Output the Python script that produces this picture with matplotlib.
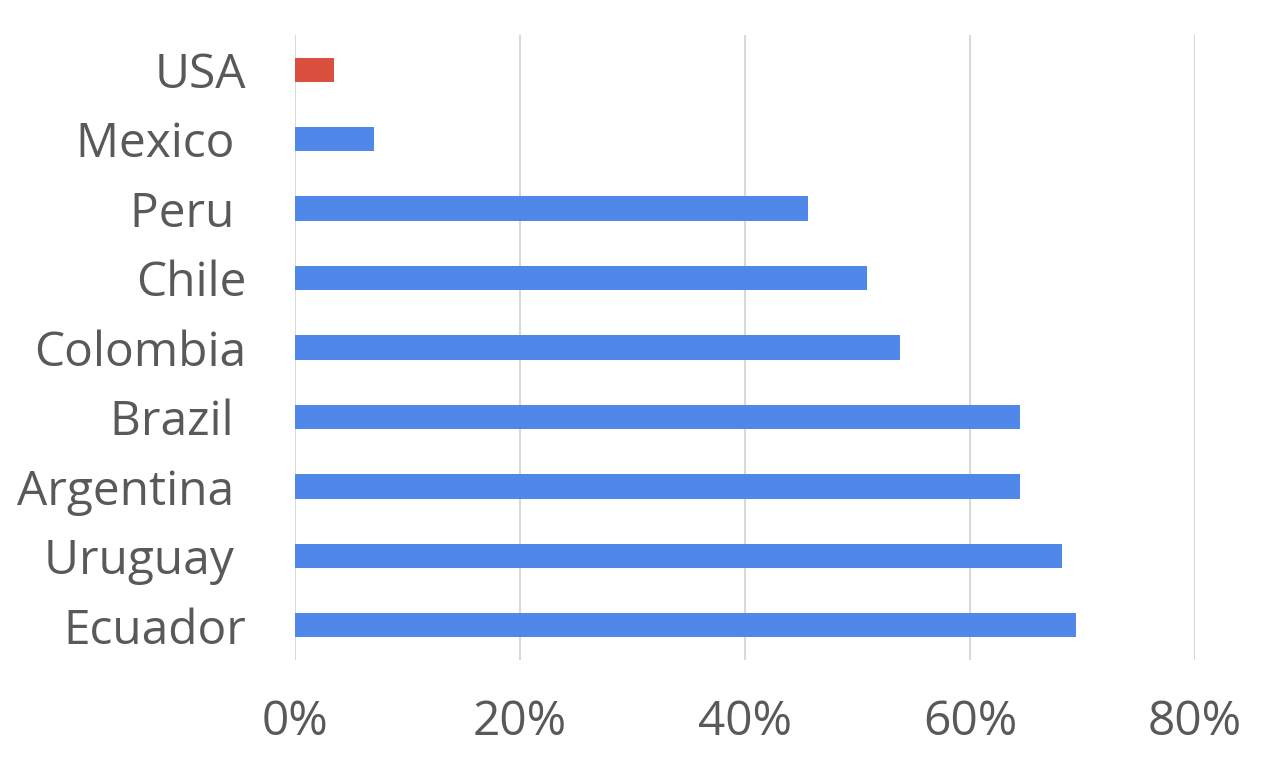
import matplotlib
matplotlib.use('Agg')
import matplotlib.pyplot as plt
from matplotlib.ticker import FuncFormatter

# data (top to bottom)
countries = ['USA', 'Mexico ', 'Peru ', 'Chile', 'Colombia', 'Brazil ', 'Argentina ', 'Uruguay ', 'Ecuador']
values = [3.5, 7.0, 45.6, 50.8, 53.8, 64.4, 64.4, 68.2, 69.4]
highlight = 'USA'

plt.rcParams['font.family'] = ['Open Sans', 'DejaVu Sans']

blue = '#4f88e8'
red = '#db4f3e'
textc = '#595959'

fig = plt.figure(figsize=(12.72, 7.62), dpi=100)
ax = fig.add_axes([295/1272, 102/762, 900/1272, 625/762])

y = list(range(len(countries)))
colors = [red if c.strip() == highlight else blue for c in countries]
ax.barh(y, values, height=0.35, color=colors, zorder=3)

ax.set_ylim(len(countries) - 0.5, -0.5)
ax.set_xlim(0, 80)
ax.set_xticks([0, 20, 40, 60, 80])
ax.xaxis.set_major_formatter(FuncFormatter(lambda v, p: '{:.0f}%'.format(v)))
ax.set_yticks(y)
ax.set_yticklabels(countries)

ax.grid(axis='x', color='#d9d9d9', linewidth=1.5, zorder=0)
for s in ax.spines.values():
    s.set_visible(False)
ax.tick_params(axis='both', length=0, labelsize=34.5, labelcolor=textc)
ax.tick_params(axis='x', pad=28)
ax.tick_params(axis='y', pad=35)

fig.savefig('out.png', dpi=100)
